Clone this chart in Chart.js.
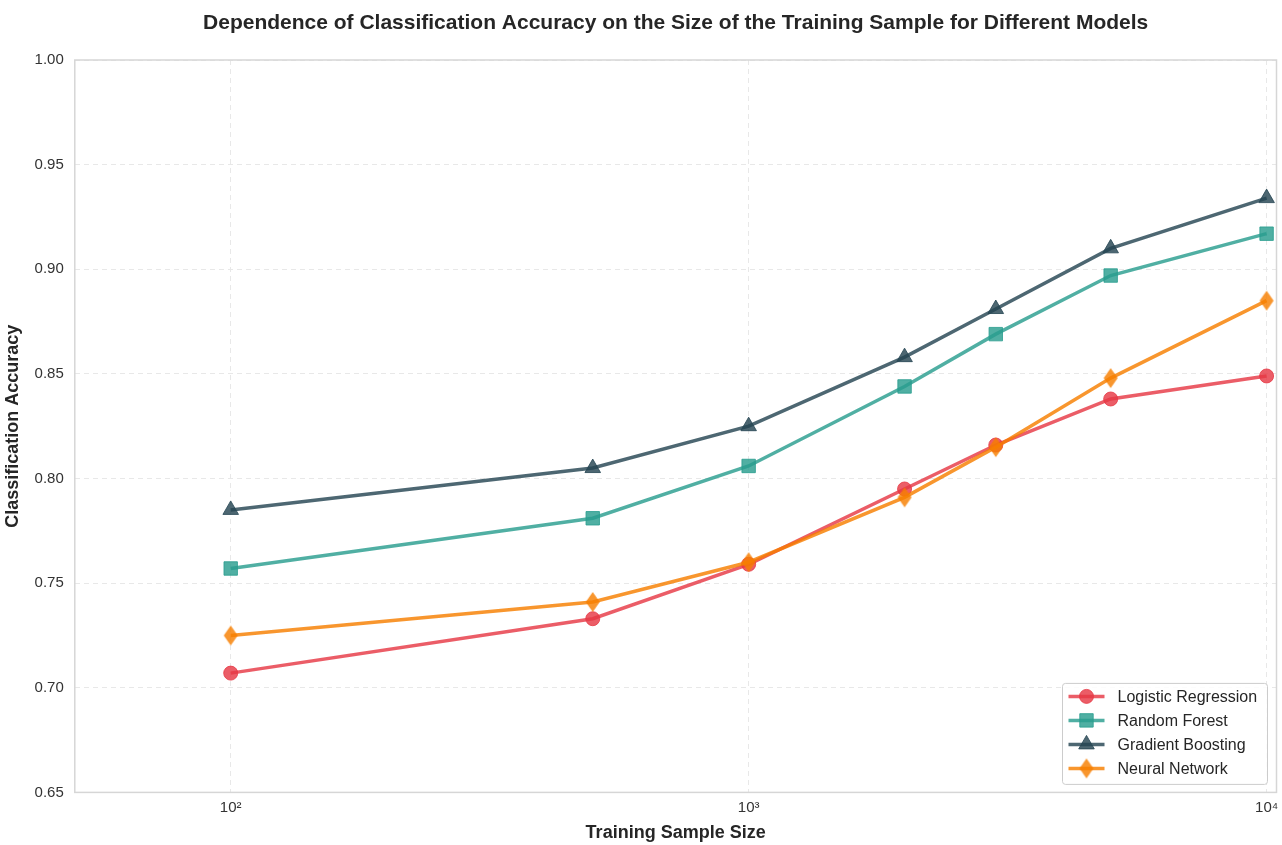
<!DOCTYPE html>
<html>
<head>
<meta charset="utf-8">
<script src="https://cdn.jsdelivr.net/npm/chart.js@4.4.1/dist/chart.umd.min.js"></script>
<style>
  body { margin: 0; background: #fff; overflow: hidden; }
  #wrap { width: 1287px; height: 845px; }
</style>
</head>
<body>
<div id="wrap"><canvas id="accChart"></canvas></div>
<script>
const sampleSizes = [100, 500, 1000, 2000, 3000, 5000, 10000];
const logisticAcc = [0.707, 0.733, 0.759, 0.795, 0.816, 0.838, 0.849];
const forestAcc   = [0.757, 0.781, 0.806, 0.844, 0.869, 0.897, 0.917];
const boostAcc    = [0.785, 0.805, 0.825, 0.858, 0.881, 0.910, 0.934];
const neuralAcc   = [0.725, 0.741, 0.760, 0.791, 0.815, 0.848, 0.885];
const xTicks = [100, 1000, 10000];
const xTickLabels = ['10²', '10³', '10⁴'];

const FONT = '"Liberation Sans", Arial, sans-serif';
const TITLE = 'Dependence of Classification Accuracy on the Size of the Training Sample for Different Models';

// thin diamond marker, like matplotlib's 'd'
function thinDiamond(color) {
  const c = document.createElement('canvas');
  c.width = 16; c.height = 22;
  const g = c.getContext('2d');
  g.fillStyle = color;
  g.beginPath();
  g.moveTo(8, 1); g.lineTo(15, 11); g.lineTo(8, 21); g.lineTo(1, 11);
  g.closePath();
  g.fill();
  return c;
}

const orange = 'rgba(247,127,0,0.82)';
const models = [
  { name: 'Logistic Regression', values: logisticAcc, color: 'rgba(230,57,70,0.82)', style: 'circle', r: 7, order: 4 },
  { name: 'Random Forest', values: forestAcc, color: 'rgba(42,157,143,0.82)', style: 'rect', r: 9.5, order: 3 },
  { name: 'Gradient Boosting', values: boostAcc, color: 'rgba(38,70,83,0.82)', style: 'triangle', r: 9, order: 2 },
  { name: 'Neural Network', values: neuralAcc, color: orange, style: thinDiamond(orange), r: 8, order: 1 }
];

const datasets = models.map(m => ({
  label: m.name,
  data: sampleSizes.map((x, i) => ({ x: x, y: m.values[i] })),
  borderColor: m.color,
  backgroundColor: m.color,
  borderWidth: 3.5,
  pointStyle: m.style,
  pointRadius: m.r,
  pointHoverRadius: m.r,
  pointBorderWidth: 1,
  order: m.order,
  tension: 0
}));

// title centred over the plot, frame around the plot, legend box lower right
const framePlugin = {
  id: 'frame',
  afterDraw(chart) {
    const ctx = chart.ctx;
    const a = chart.chartArea;
    ctx.save();
    ctx.fillStyle = '#262626';
    ctx.font = 'bold 21px ' + FONT;
    ctx.textAlign = 'center';
    ctx.textBaseline = 'middle';
    ctx.fillText(TITLE, (a.left + a.right) / 2, 23);

    ctx.strokeStyle = '#d6d6d6';
    ctx.lineWidth = 1.5;
    ctx.strokeRect(a.left, a.top, a.right - a.left, a.bottom - a.top);

    const bw = 205, bh = 101;
    const bx = a.right - 214, by = a.bottom - 109;
    ctx.fillStyle = 'rgba(255,255,255,0.85)';
    ctx.strokeStyle = '#cccccc';
    ctx.lineWidth = 1;
    ctx.beginPath();
    ctx.roundRect(bx, by, bw, bh, 3);
    ctx.fill();
    ctx.stroke();
    ctx.font = '16px ' + FONT;
    ctx.textAlign = 'left';
    models.forEach((m, i) => {
      const yy = by + 13 + i * 24;
      ctx.strokeStyle = m.color;
      ctx.fillStyle = m.color;
      ctx.lineWidth = 3.5;
      ctx.beginPath();
      ctx.moveTo(bx + 6, yy);
      ctx.lineTo(bx + 42, yy);
      ctx.stroke();
      ctx.lineWidth = 1;
      Chart.helpers.drawPoint(ctx, { pointStyle: m.style, radius: m.r, borderWidth: 1 }, bx + 24, yy);
      ctx.fillStyle = '#262626';
      ctx.fillText(m.name, bx + 55, yy + 1);
    });
    ctx.restore();
  }
};

new Chart(document.getElementById('accChart'), {
  type: 'line',
  data: { datasets: datasets },
  options: {
    responsive: true,
    maintainAspectRatio: false,
    animation: false,
    layout: { padding: { left: 2, right: 0, top: 60, bottom: 1 } },
    plugins: {
      legend: { display: false },
      tooltip: { enabled: false },
      title: { display: false }
    },
    scales: {
      x: {
        type: 'logarithmic',
        min: 50,
        max: 10450,
        afterBuildTicks(axis) {
          axis.ticks = xTicks.map(v => ({ value: v }));
        },
        ticks: {
          color: '#333333',
          font: { family: FONT, size: 15 },
          padding: 6,
          maxRotation: 0,
          autoSkip: false,
          callback: (v) => xTickLabels[xTicks.indexOf(v)]
        },
        grid: { color: '#e8e8e8', lineWidth: 1, drawTicks: false },
        border: { display: false, dash: [5, 4] },
        title: {
          display: true,
          text: 'Training Sample Size',
          color: '#262626',
          font: { family: FONT, size: 18, weight: 'bold' },
          padding: { top: 0, bottom: 0 }
        }
      },
      y: {
        min: 0.65,
        max: 1.0,
        ticks: {
          stepSize: 0.05,
          color: '#333333',
          font: { family: FONT, size: 15 },
          padding: 11,
          callback: (v) => v.toFixed(2)
        },
        grid: { color: '#e8e8e8', lineWidth: 1, drawTicks: false },
        border: { display: false, dash: [5, 4] },
        title: {
          display: true,
          text: 'Classification Accuracy',
          color: '#262626',
          font: { family: FONT, size: 18, weight: 'bold' },
          padding: { top: 0, bottom: 0 }
        }
      }
    }
  },
  plugins: [framePlugin]
});
</script>
</body>
</html>
